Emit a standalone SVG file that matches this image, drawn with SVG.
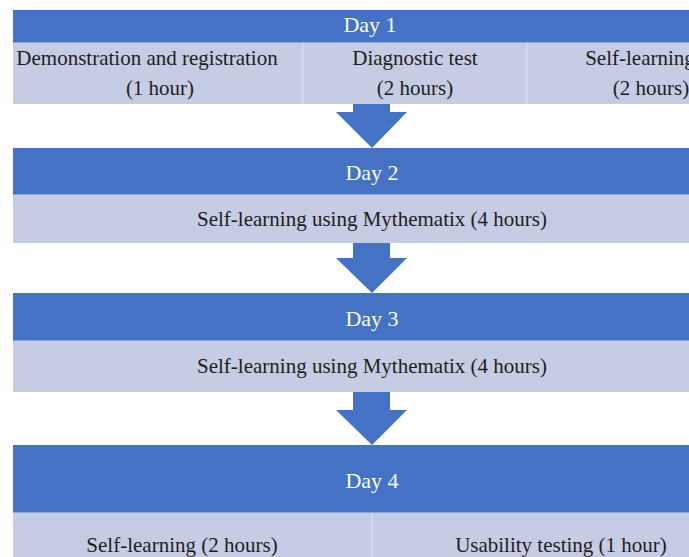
<svg xmlns="http://www.w3.org/2000/svg" width="689" height="557" viewBox="0 0 689 557">
<style>
.hdr{fill:#4472C4}
.row{fill:#C5CCE4}
.div{stroke:#D6DBEE;stroke-width:1.5}
.sep{stroke:#8FA8DA;stroke-width:1}
.ht{font-family:"Liberation Serif","Times New Roman",serif;font-size:22px;fill:#FFFFFF;text-anchor:middle}
.bt{font-family:"Liberation Serif","Times New Roman",serif;font-size:21px;fill:#1E1E1E;text-anchor:middle}
.arr{fill:#4472C4}
</style>
<rect width="689" height="557" fill="#FFFFFF"/>
<g id="day1">
<rect class="hdr" x="13" y="10" width="676" height="32"/>
<text class="ht" x="370" y="32">Day 1</text>
</g>
<g id="day1-activities">
<rect class="row" x="13" y="42" width="676" height="62"/>
<line class="sep" x1="13" y1="42.5" x2="689" y2="42.5"/>
<line class="div" x1="303" y1="43" x2="303" y2="104"/>
<line class="div" x1="527" y1="43" x2="527" y2="104"/>
<text class="bt" x="147" y="65">Demonstration and registration</text>
<text class="bt" x="160" y="95">(1 hour)</text>
<text class="bt" x="415" y="65">Diagnostic test</text>
<text class="bt" x="415" y="95">(2 hours)</text>
<text class="bt" x="640" y="65">Self-learning</text>
<text class="bt" x="651" y="95">(2 hours)</text>
</g>
<g id="day2">
<rect class="hdr" x="13" y="148" width="676" height="46"/>
<text class="ht" x="372" y="180">Day 2</text>
</g>
<g id="day2-activities">
<rect class="row" x="13" y="194" width="676" height="49"/>
<line class="sep" x1="13" y1="194.5" x2="689" y2="194.5"/>
<text class="bt" x="372" y="226">Self-learning using Mythematix (4 hours)</text>
</g>
<g id="day3">
<rect class="hdr" x="13" y="293" width="676" height="47"/>
<text class="ht" x="372" y="326">Day 3</text>
</g>
<g id="day3-activities">
<rect class="row" x="13" y="340" width="676" height="52"/>
<line class="sep" x1="13" y1="340.5" x2="689" y2="340.5"/>
<text class="bt" x="372" y="373">Self-learning using Mythematix (4 hours)</text>
</g>
<g id="day4">
<rect class="hdr" x="13" y="445" width="676" height="67"/>
<text class="ht" x="372" y="488">Day 4</text>
</g>
<g id="day4-activities">
<rect class="row" x="13" y="512" width="676" height="45"/>
<line class="sep" x1="13" y1="512.5" x2="689" y2="512.5"/>
<line class="div" x1="372" y1="513" x2="372" y2="557"/>
<text class="bt" x="182" y="552">Self-learning (2 hours)</text>
<text class="bt" x="561" y="552">Usability testing (1 hour)</text>
</g>
<g id="connectors">
<polygon class="arr" points="353,104 390,104 390,112 407,112 372,148 336,112 353,112"/>
<polygon class="arr" points="353,243 390,243 390,258 407,258 372,293 336,258 353,258"/>
<polygon class="arr" points="353,392 390,392 390,410 407,410 372,445 336,410 353,410"/>
</g>
</svg>
